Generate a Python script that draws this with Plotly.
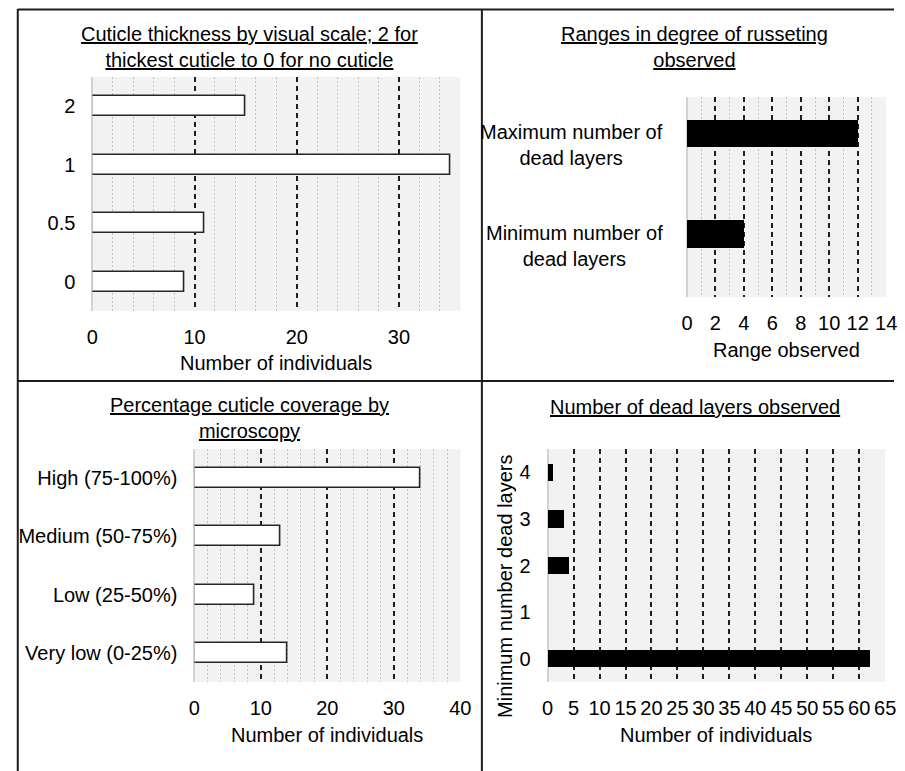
import plotly.graph_objects as go

W, H = 905, 771

# Cuticle thickness score (visual scale) vs. number of individuals
thickness_scores = ["0", "0.5", "1", "2"]
thickness_counts = [9, 11, 35, 15]

# Range of russeting (dead cell layers)
russet_keys = ["Minimum", "Maximum"]
russet_labels = ["Minimum number of<br>dead layers", "Maximum number of<br>dead layers"]
russet_range = [4, 12]

# Cuticle coverage class (microscopy) vs. number of individuals
coverage_classes = ["Very low (0-25%)", "Low (25-50%)", "Medium (50-75%)", "High (75-100%)"]
coverage_counts = [14, 9, 13, 34]

# Minimum number of dead layers vs. number of individuals
dead_layer_min = ["0", "1", "2", "3", "4"]
dead_layer_counts = [62, 0, 4, 3, 1]

FONT = "Liberation Sans, Arial, sans-serif"
TXT = "#000000"


def px(x):
    return x / W


def py(y):
    return 1 - y / H


open_bar = dict(color="white", line=dict(color="#262626", width=1.6))
solid_bar = dict(color="black", line=dict(width=0))

fig = go.Figure()
fig.add_trace(go.Bar(x=thickness_counts, y=thickness_scores, orientation="h",
                     xaxis="x", yaxis="y", marker=open_bar, width=0.34))
fig.add_trace(go.Bar(x=russet_range, y=russet_keys, orientation="h",
                     xaxis="x2", yaxis="y2", marker=solid_bar, width=0.27))
fig.add_trace(go.Bar(x=coverage_counts, y=coverage_classes, orientation="h",
                     xaxis="x3", yaxis="y3", marker=open_bar, width=0.34))
fig.add_trace(go.Bar(x=dead_layer_counts, y=dead_layer_min, orientation="h",
                     xaxis="x4", yaxis="y4", marker=solid_bar, width=0.37))


def xaxis_cfg(domain, rng, dtick, minor_dtick, anchor):
    cfg = dict(
        domain=[px(domain[0]), px(domain[1])], range=rng, anchor=anchor,
        tick0=0, dtick=dtick, ticks="", ticklabelstandoff=12,
        tickfont=dict(family=FONT, size=20, color=TXT),
        showgrid=True, gridcolor="#1f1f1f", gridwidth=1.6, griddash="5px,4px",
        zeroline=True, zerolinecolor="#d2d2d2", zerolinewidth=2,
        showline=False, fixedrange=True,
    )
    if minor_dtick:
        cfg["minor"] = dict(dtick=minor_dtick, showgrid=True, gridcolor="#c2c2c2",
                            gridwidth=1, griddash="2px,2px")
    return cfg


def yaxis_cfg(domain, rng, anchor, labels=True):
    return dict(
        domain=[py(domain[1]), py(domain[0])], range=rng, anchor=anchor,
        type="category", showgrid=False, zeroline=False, ticks="",
        ticklabelstandoff=16, showticklabels=labels,
        tickfont=dict(family=FONT, size=20, color=TXT), fixedrange=True,
    )


fig.update_layout(
    width=W, height=H, autosize=False,
    margin=dict(l=0, r=0, t=0, b=0),
    paper_bgcolor="white", plot_bgcolor="#f2f2f2",
    showlegend=False, bargap=0,
    font=dict(family=FONT, size=20, color=TXT),
    xaxis=xaxis_cfg((88, 463), [0, 36], 10, 2, "y"),
    yaxis=yaxis_cfg((77, 311), [-0.5, 3.5], "x"),
    xaxis2=xaxis_cfg((694, 897), [0, 14], 2, 1, "y2"),
    yaxis2=yaxis_cfg((97, 297), [-0.627, 1.363], "x2", labels=False),
    xaxis3=xaxis_cfg((192, 463), [0, 40], 10, 2, "y3"),
    yaxis3=yaxis_cfg((449, 682), [-0.5, 3.5], "x3"),
    xaxis4=xaxis_cfg((552, 896), [0, 65], 5, None, "y4"),
    yaxis4=yaxis_cfg((449, 682), [-0.5, 4.5], "x4"),
)

annotations = []


def note(text, x, y, **kw):
    d = dict(text=text, x=px(x), y=py(y), xref="paper", yref="paper",
             showarrow=False, xanchor="center", yanchor="middle",
             font=dict(family=FONT, size=20, color=TXT))
    d.update(kw)
    annotations.append(d)


# Panel titles
note("<u>Cuticle thickness by visual scale; 2 for</u><br><u>thickest cuticle to 0 for no cuticle</u>",
     248, 46.5)
note("<u>Ranges in degree of russeting</u><br><u>observed</u>", 702, 46.5)
note("<u>Percentage cuticle coverage by</u><br><u>microscopy</u>", 248, 418.5)
note("<u>Number of dead layers observed</u>", 702, 407)

# Axis titles
note("Number of individuals", 275.5, 363)
note("Range observed", 795.5, 350)
note("Number of individuals", 327.5, 735)
note("Number of individuals", 724, 735)
note("Minimum number dead layers", 508, 586.5, textangle=-90)

# Category labels for the russeting panel (centred multi-line text)
for key, label in zip(russet_keys, russet_labels):
    annotations.append(dict(
        text=label, x=px(672), y=key, xref="paper", yref="y2",
        showarrow=False, xanchor="right", yanchor="middle", align="center",
        yshift=-12, font=dict(family=FONT, size=20, color=TXT)))

fig.update_layout(annotations=annotations)

# Panel frame lines
frame = dict(color="#1e1e1e", width=2)
shapes = [
    dict(type="line", xref="paper", yref="paper", x0=px(12), x1=1, y0=py(9.5), y1=py(9.5), line=frame),
    dict(type="line", xref="paper", yref="paper", x0=px(12), x1=px(12), y0=0, y1=py(9), line=frame),
    dict(type="line", xref="paper", yref="paper", x0=px(485), x1=px(485), y0=0, y1=py(9), line=frame),
    dict(type="line", xref="paper", yref="paper", x0=px(12), x1=1, y0=py(381), y1=py(381), line=frame),
]
fig.update_layout(shapes=shapes)

fig.write_html("out.html")
